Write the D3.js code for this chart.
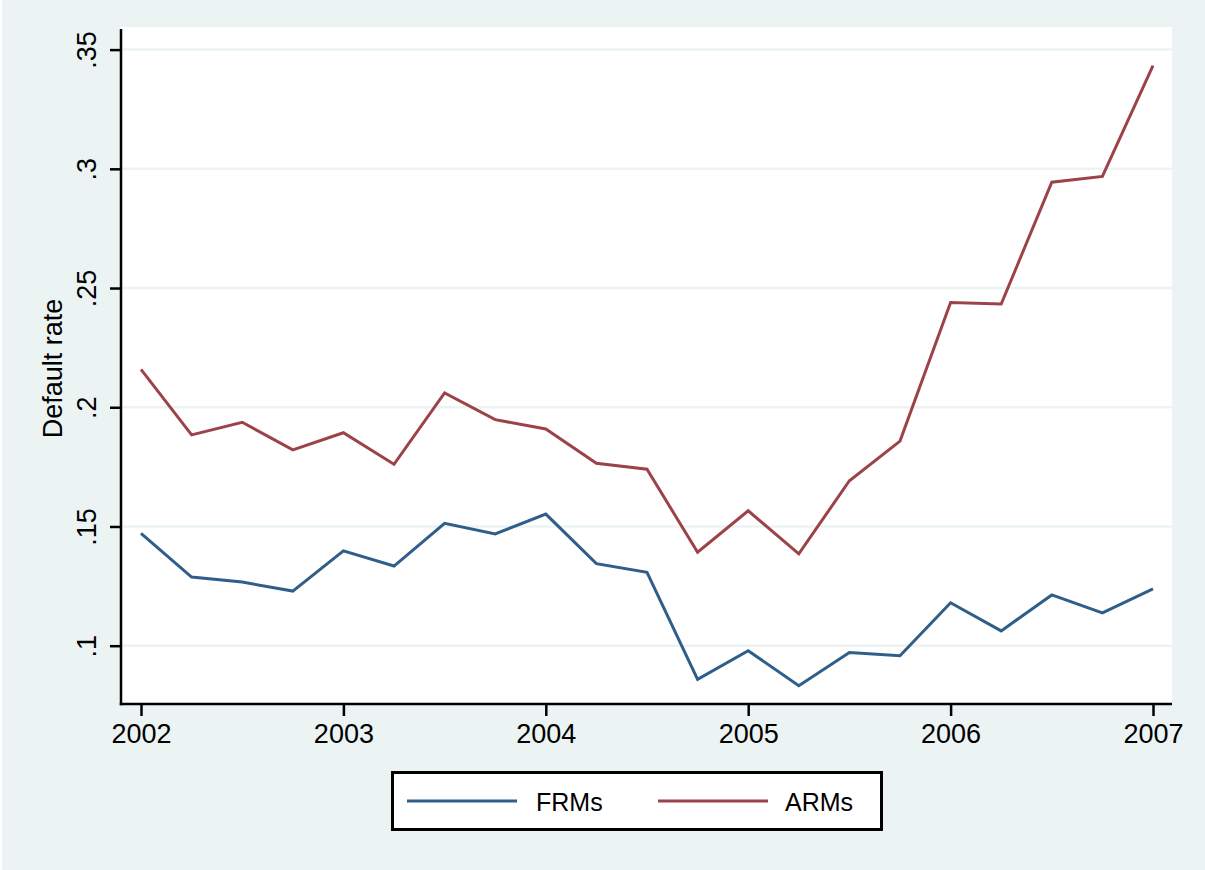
<!DOCTYPE html>
<html>
<head>
<meta charset="utf-8">
<script src="https://cdn.jsdelivr.net/npm/d3@7"></script>
<style>
  body { margin: 0; background: #fff; }
  svg { display: block; font-family: "Liberation Sans", Arial, Helvetica, sans-serif; }
</style>
</head>
<body>
<svg id="chart" width="1205" height="870"></svg>
<script>
// quarterly observations, 2002q1 .. 2007q1
var quarters = [2002, 2002.25, 2002.5, 2002.75, 2003, 2003.25, 2003.5, 2003.75,
                2004, 2004.25, 2004.5, 2004.75, 2005, 2005.25, 2005.5, 2005.75,
                2006, 2006.25, 2006.5, 2006.75, 2007];

var frmRates = [0.1471, 0.1288, 0.1267, 0.1229, 0.1398, 0.1334, 0.1513, 0.1469,
                0.1552, 0.1344, 0.1308, 0.0859, 0.0979, 0.0832, 0.0971, 0.0958,
                0.1180, 0.1062, 0.1213, 0.1138, 0.1238];

var armRates = [0.2159, 0.1884, 0.1937, 0.1821, 0.1893, 0.1761, 0.2060, 0.1948,
                0.1909, 0.1765, 0.1740, 0.1392, 0.1566, 0.1385, 0.1692, 0.1858,
                0.2439, 0.2433, 0.2944, 0.2968, 0.3433];

var yearTicks = [2002, 2003, 2004, 2005, 2006, 2007];
var rateTicks = [0.1, 0.15, 0.2, 0.25, 0.3, 0.35];
var rateLabels = [".1", ".15", ".2", ".25", ".3", ".35"];

var seriesNames = ["FRMs", "ARMs"];
var seriesColors = ["#2f5e89", "#9c434a"];

var BG = "#ecf3f3";
var TICK_FONT = 27;
var LEGEND_FONT = 25;

var svg = d3.select("#chart");

// plot region
var plotL = 121, plotR = 1172, plotT = 27, plotB = 704;

var x = d3.scaleLinear().domain([2002, 2007]).range([141, 1153]);
var y = d3.scaleLinear().domain([0.1, 0.35]).range([645.7, 49.6]);

svg.append("rect").attr("width", 1205).attr("height", 870).attr("fill", BG);
svg.append("rect").attr("width", 2).attr("height", 870).attr("fill", "#fff");

svg.append("rect")
    .attr("x", plotL).attr("y", plotT)
    .attr("width", plotR - plotL).attr("height", plotB - plotT)
    .attr("fill", "#fff");

// grid lines
svg.append("g").selectAll("line").data(rateTicks).enter()
    .append("line")
    .attr("x1", plotL).attr("x2", plotR)
    .attr("y1", function (d) { return y(d); })
    .attr("y2", function (d) { return y(d); })
    .attr("stroke", BG).attr("stroke-width", 2.5);

// series lines
var series = [frmRates, armRates];
var line = d3.line()
    .x(function (d, i) { return x(quarters[i]); })
    .y(function (d) { return y(d); });

svg.append("g").selectAll("path").data(series).enter()
    .append("path")
    .attr("d", line)
    .attr("fill", "none")
    .attr("stroke", function (d, i) { return seriesColors[i]; })
    .attr("stroke-width", 3)
    .attr("stroke-linejoin", "miter");

// y axis
var yAxis = d3.axisLeft(y)
    .tickValues(rateTicks)
    .tickFormat(function (d, i) { return rateLabels[i]; })
    .tickSize(11);

var gy = svg.append("g").attr("transform", "translate(" + plotL + ",0)").call(yAxis);
gy.select(".domain").remove();
gy.selectAll(".tick line").attr("stroke", "#000").attr("stroke-width", 2.5);
gy.selectAll(".tick text")
    .attr("transform", "rotate(-90)")
    .attr("x", 0).attr("y", -25).attr("dy", 0)
    .attr("text-anchor", "middle")
    .attr("fill", "#000")
    .style("font-size", TICK_FONT + "px")
    .style("font-family", null);

// x axis
var xAxis = d3.axisBottom(x)
    .tickValues(yearTicks)
    .tickFormat(d3.format("d"))
    .tickSize(12);

var gx = svg.append("g").attr("transform", "translate(0," + plotB + ")").call(xAxis);
gx.select(".domain").remove();
gx.selectAll(".tick line").attr("stroke", "#000").attr("stroke-width", 2.5);
gx.selectAll(".tick text")
    .attr("y", 38.7).attr("dy", 0)
    .attr("fill", "#000")
    .style("font-size", TICK_FONT + "px")
    .style("font-family", null);

// axis lines
svg.append("line")
    .attr("x1", plotL).attr("x2", plotL).attr("y1", 29).attr("y2", plotB + 1.2)
    .attr("stroke", "#000").attr("stroke-width", 2.5);
svg.append("line")
    .attr("x1", plotL - 1.2).attr("x2", plotR).attr("y1", plotB).attr("y2", plotB)
    .attr("stroke", "#000").attr("stroke-width", 2.5);

// y title
svg.append("text")
    .attr("transform", "translate(62," + ((plotT + plotB) / 2 + 3) + ") rotate(-90)")
    .attr("text-anchor", "middle")
    .style("font-size", TICK_FONT + "px")
    .text("Default rate");

// legend
var legend = svg.append("g");
legend.append("rect")
    .attr("x", 392.5).attr("y", 772.5).attr("width", 489).attr("height", 57)
    .attr("fill", "#fff").attr("stroke", "#000").attr("stroke-width", 3);

var legendX = [407, 658];
var items = legend.selectAll("g.item").data(seriesNames).enter()
    .append("g").attr("class", "item")
    .attr("transform", function (d, i) { return "translate(" + legendX[i] + ",801)"; });

items.append("line")
    .attr("x1", 0).attr("x2", 110)
    .attr("stroke", function (d, i) { return seriesColors[i]; })
    .attr("stroke-width", 3);

items.append("text")
    .attr("x", function (d, i) { return i == 0 ? 129 : 127; })
    .attr("y", 10)
    .style("font-size", LEGEND_FONT + "px")
    .text(function (d) { return d; });
</script>
</body>
</html>
